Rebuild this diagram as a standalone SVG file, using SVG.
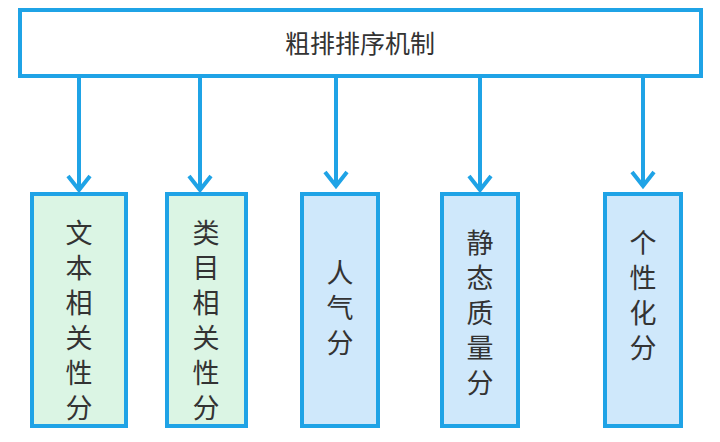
<svg xmlns="http://www.w3.org/2000/svg" width="720" height="442" viewBox="0 0 720 442">
<style>
.b{stroke:#1fa3e6;stroke-width:4}
.g{fill:#dbf5e4}.u{fill:#cfe8fb}
.c{stroke:#1fa3e6;stroke-width:4;fill:none}
text{font-family:"Noto Sans CJK SC",sans-serif;fill:#333;text-anchor:middle}
.v{font-size:27px}
</style>
<rect width="720" height="442" fill="#fff"/>
<g id="top"><rect class="b" x="20" y="10" width="681" height="66" fill="#fff"/><text x="360" y="53" font-size="25">粗排排序机制</text></g>
<g id="connectors">
<path class="c" d="M79 76V190M68 176L79 190L90 176"/>
<path class="c" d="M200 76V190M189 176L200 190L211 176"/>
<path class="c" d="M336 76V186M325 172L336 186L347 172"/>
<path class="c" d="M480 76V190M469 176L480 190L491 176"/>
<path class="c" d="M643 76V186M632 172L643 186L654 172"/>
</g>
<g id="n1"><rect class="b g" x="32" y="194" width="94" height="232"/><text class="v" x="79"><tspan x="79" y="243">文</tspan><tspan x="79" y="278">本</tspan><tspan x="79" y="313">相</tspan><tspan x="79" y="348">关</tspan><tspan x="79" y="383">性</tspan><tspan x="79" y="418">分</tspan></text></g>
<g id="n2"><rect class="b g" x="167" y="194" width="79" height="232"/><text class="v" x="206"><tspan x="206" y="243">类</tspan><tspan x="206" y="278">目</tspan><tspan x="206" y="313">相</tspan><tspan x="206" y="348">关</tspan><tspan x="206" y="383">性</tspan><tspan x="206" y="418">分</tspan></text></g>
<g id="n3"><rect class="b u" x="302" y="194" width="76" height="232"/><text class="v" x="340"><tspan x="340" y="283">人</tspan><tspan x="340" y="318">气</tspan><tspan x="340" y="353">分</tspan></text></g>
<g id="n4"><rect class="b u" x="442" y="194" width="76" height="232"/><text class="v" x="480"><tspan x="480" y="253">静</tspan><tspan x="480" y="288">态</tspan><tspan x="480" y="323">质</tspan><tspan x="480" y="358">量</tspan><tspan x="480" y="393">分</tspan></text></g>
<g id="n5"><rect class="b u" x="605" y="194" width="76" height="232"/><text class="v" x="643"><tspan x="643" y="253">个</tspan><tspan x="643" y="288">性</tspan><tspan x="643" y="323">化</tspan><tspan x="643" y="358">分</tspan></text></g>
</svg>
